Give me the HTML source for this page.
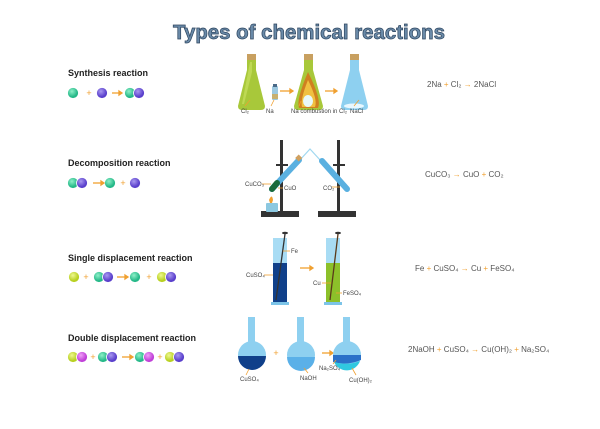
<!DOCTYPE html>
<html><head><meta charset="utf-8"><style>
html,body{margin:0;padding:0;background:#fff;width:600px;height:429px;overflow:hidden}
svg{display:block}
.lbl{font-family:"Liberation Sans",sans-serif;font-weight:bold;font-size:9px;fill:#222}
.sm{font-family:"Liberation Sans",sans-serif;font-size:6px;fill:#444}
.eq{font-family:"Liberation Sans",sans-serif;font-size:8px;fill:#555}
.op{fill:#f0a030}
</style></head><body>
<svg width="600" height="429" viewBox="0 0 600 429" xmlns="http://www.w3.org/2000/svg">
<defs>
<radialGradient id="t" cx="40%" cy="35%"><stop offset="0" stop-color="#8ef0c8"/><stop offset="1" stop-color="#25b888"/></radialGradient>
<radialGradient id="p" cx="40%" cy="35%"><stop offset="0" stop-color="#a898f0"/><stop offset="1" stop-color="#5a40cc"/></radialGradient>
<radialGradient id="y" cx="40%" cy="35%"><stop offset="0" stop-color="#eef890"/><stop offset="1" stop-color="#b8d020"/></radialGradient>
<radialGradient id="m" cx="40%" cy="35%"><stop offset="0" stop-color="#f0a0f8"/><stop offset="1" stop-color="#c040d8"/></radialGradient>
</defs>
<text x="309" y="39" text-anchor="middle" font-family="Liberation Sans,sans-serif" font-weight="bold" font-size="20" textLength="272" lengthAdjust="spacingAndGlyphs" fill="#6a8aa8" stroke="#2e4660" stroke-width="0.7">Types of chemical reactions</text>

<text class="lbl" x="68" y="76">Synthesis reaction</text>
<text class="lbl" x="68" y="166">Decomposition reaction</text>
<text class="lbl" x="68" y="261">Single displacement reaction</text>
<text class="lbl" x="68" y="341">Double displacement reaction</text>

<g stroke="#fff" stroke-width="0.8">
<circle cx="73" cy="93" r="5.5" fill="url(#t)"/>
<circle cx="102" cy="93" r="5.5" fill="url(#p)"/>
<circle cx="130" cy="93" r="5.5" fill="url(#t)"/><circle cx="139" cy="93" r="5.5" fill="url(#p)"/>
<circle cx="73" cy="183" r="5.5" fill="url(#t)"/><circle cx="82" cy="183" r="5.5" fill="url(#p)"/>
<circle cx="110" cy="183" r="5.5" fill="url(#t)"/>
<circle cx="135" cy="183" r="5.5" fill="url(#p)"/>
<circle cx="74" cy="277" r="5.5" fill="url(#y)"/>
<circle cx="99" cy="277" r="5.5" fill="url(#t)"/><circle cx="108" cy="277" r="5.5" fill="url(#p)"/>
<circle cx="135" cy="277" r="5.5" fill="url(#t)"/>
<circle cx="162" cy="277" r="5.5" fill="url(#y)"/><circle cx="171" cy="277" r="5.5" fill="url(#p)"/>
<circle cx="73" cy="357" r="5.5" fill="url(#y)"/><circle cx="82" cy="357" r="5.5" fill="url(#m)"/>
<circle cx="103" cy="357" r="5.5" fill="url(#t)"/><circle cx="112" cy="357" r="5.5" fill="url(#p)"/>
<circle cx="140" cy="357" r="5.5" fill="url(#t)"/><circle cx="149" cy="357" r="5.5" fill="url(#m)"/>
<circle cx="170" cy="357" r="5.5" fill="url(#y)"/><circle cx="179" cy="357" r="5.5" fill="url(#p)"/>
</g>
<g font-family="Liberation Sans,sans-serif" font-size="9" fill="#f0a030" text-anchor="middle">
<text x="89" y="96">+</text><text x="123" y="186">+</text><text x="86" y="280">+</text><text x="149" y="280">+</text><text x="93" y="360">+</text><text x="160" y="360">+</text>
</g>
<g stroke="#f0a030" stroke-width="1.3" fill="#f0a030">
<line x1="112" y1="93" x2="119" y2="93"/><path d="M119 91 L122 93 L119 95Z"/>
<line x1="93" y1="183" x2="101" y2="183"/><path d="M101 181 L104 183 L101 185Z"/>
<line x1="117" y1="277" x2="125" y2="277"/><path d="M125 275 L128 277 L125 279Z"/>
<line x1="122" y1="357" x2="130" y2="357"/><path d="M130 355 L133 357 L130 359Z"/>
<line x1="280" y1="91" x2="290" y2="91"/><path d="M290 89 L293 91 L290 93Z"/>
<line x1="325" y1="91" x2="334" y2="91"/><path d="M334 89 L337 91 L334 93Z"/>
<line x1="300" y1="268" x2="310" y2="268"/><path d="M310 266 L313 268 L310 270Z"/>
<line x1="322" y1="353" x2="330" y2="353"/><path d="M330 351 L333 353 L330 355Z"/>
</g>

<rect x="247" y="54" width="9" height="6" fill="#c8a060"/>
<path d="M247 60 L256 60 L256 70 L265 106 Q265 110 261 110 L242 110 Q238 110 238 106 L247 70Z" fill="#a8c83a"/>
<path d="M250 62 L252 62 L252 72 L244 104 L242 104Z" fill="#c8e060" opacity="0.7"/>
<rect x="304" y="54" width="9" height="6" fill="#c8a060"/>
<path d="M304 60 L313 60 L313 70 L323 106 Q323 110 319 110 L298 110 Q294 110 294 106 L304 70Z" fill="#a8c83a"/>
<path d="M308 72 Q296 100 299 108 L318 108 Q322 100 308 72Z" fill="#d08020"/>
<path d="M308 80 Q300 100 302 107 L315 107 Q318 100 308 80Z" fill="#f0c040"/>
<ellipse cx="308" cy="101" rx="5" ry="6" fill="#e8f8f8"/>
<rect x="350" y="54" width="9" height="6" fill="#c8a060"/>
<path d="M350 60 L359 60 L359 70 L368 106 Q368 110 364 110 L345 110 Q341 110 341 106 L350 70Z" fill="#8ed0f0"/>
<ellipse cx="354" cy="106" rx="10" ry="2.5" fill="#e8f8ff"/>
<rect x="272" y="86" width="6" height="14" rx="1" fill="#9cc8e0"/>
<rect x="273" y="84" width="4" height="3" fill="#4a6a88"/>
<rect x="272" y="94" width="6" height="5" fill="#c8b070"/>
<g stroke="#f0a030" stroke-width="0.8"><line x1="245" y1="106" x2="250" y2="100"/><line x1="271" y1="106" x2="274" y2="100"/><line x1="299" y1="106" x2="301" y2="101"/><line x1="354" y1="106" x2="359" y2="100"/></g>
<text class="sm" x="241" y="113">Cl₂</text>
<text class="sm" x="266" y="113">Na</text>
<text class="sm" x="291" y="113">Na combustion in Cl₂</text>
<text class="sm" x="350" y="113">NaCl</text>
<text class="eq" x="427" y="87">2Na <tspan class="op">+</tspan> Cl₂ <tspan class="op">→</tspan> 2NaCl</text>

<rect x="280" y="140" width="3" height="72" fill="#333"/>
<rect x="337" y="140" width="3" height="72" fill="#333"/>
<rect x="261" y="211" width="38" height="6" fill="#333"/>
<rect x="318" y="211" width="38" height="6" fill="#333"/>
<rect x="276" y="164" width="12" height="2" fill="#333"/><rect x="333" y="164" width="12" height="2" fill="#333"/>
<polyline points="299,161 310,149 321,161" fill="none" stroke="#a0d8f0" stroke-width="1.2"/>
<line x1="272" y1="189" x2="299" y2="160" stroke="#5ab0e0" stroke-width="6" stroke-linecap="round"/>
<line x1="272" y1="189" x2="277" y2="183" stroke="#1a6a3a" stroke-width="6" stroke-linecap="round"/>
<rect x="296" y="156" width="5" height="5" fill="#d0a060" transform="rotate(-45 298 158)"/>
<line x1="322" y1="161" x2="347" y2="189" stroke="#5ab0e0" stroke-width="6" stroke-linecap="round"/>
<rect x="266" y="203" width="12" height="9" rx="1" fill="#8cc8e0"/>
<path d="M270 203 L269 200 Q272 193 273 200 L272 203Z" fill="#f0a030"/>
<g stroke="#f0a030" stroke-width="0.8"><line x1="262" y1="184" x2="271" y2="184"/><line x1="278" y1="188" x2="283" y2="188"/><line x1="332" y1="187" x2="340" y2="187"/></g>
<text class="sm" x="245" y="186">CuCO₃</text>
<text class="sm" x="284" y="190">CuO</text>
<text class="sm" x="323" y="190">CO₂</text>
<text class="eq" x="425" y="177">CuCO₃ <tspan class="op">→</tspan> CuO <tspan class="op">+</tspan> CO₂</text>

<rect x="273" y="238" width="14" height="66" fill="#a8dcf4"/>
<rect x="273" y="263" width="14" height="41" fill="#10408a"/>
<rect x="271" y="302" width="18" height="3" fill="#7cc4e8"/>
<line x1="276" y1="300" x2="285" y2="234" stroke="#333" stroke-width="1.3"/>
<ellipse cx="285" cy="233" rx="3" ry="1.3" fill="#333"/>
<rect x="326" y="238" width="14" height="66" fill="#a8dcf4"/>
<rect x="326" y="263" width="14" height="41" fill="#8cc02a"/>
<rect x="324" y="302" width="18" height="3" fill="#7cc4e8"/>
<line x1="330" y1="300" x2="338" y2="234" stroke="#5a3a1a" stroke-width="1.3"/>
<ellipse cx="338" cy="233" rx="3" ry="1.3" fill="#333"/>
<g stroke="#f0a030" stroke-width="0.8"><line x1="283" y1="251" x2="290" y2="251"/><line x1="264" y1="275" x2="273" y2="275"/><line x1="322" y1="283" x2="331" y2="283"/><line x1="336" y1="293" x2="342" y2="293"/></g>
<text class="sm" x="291" y="253">Fe</text>
<text class="sm" x="246" y="277">CuSO₄</text>
<text class="sm" x="313" y="285">Cu</text>
<text class="sm" x="343" y="295">FeSO₄</text>
<text class="eq" x="415" y="271">Fe <tspan class="op">+</tspan> CuSO₄ <tspan class="op">→</tspan> Cu <tspan class="op">+</tspan> FeSO₄</text>

<rect x="248" y="317" width="7" height="28" fill="#8ed0f0"/>
<circle cx="252" cy="355" r="14" fill="#8ed0f0"/>
<path d="M238 356 A14 14 0 0 0 266 356Z" fill="#10408a"/>
<rect x="297" y="317" width="7" height="28" fill="#8ed0f0"/>
<circle cx="301" cy="355" r="14" fill="#8ed0f0"/>
<path d="M287 357 A14 14 0 0 0 315 357Z" fill="#5ab0e8"/>
<rect x="343" y="317" width="7" height="28" fill="#8ed0f0"/>
<circle cx="347" cy="355" r="14" fill="#8ed0f0"/>
<path d="M333 355 L361 355 L361 360 Q347 366 333 362Z" fill="#2a70c8"/>
<path d="M334 362 Q347 366 360 361 A14 14 0 0 1 334 362Z" fill="#30c8e0"/>
<text x="276" y="356" font-family="Liberation Sans,sans-serif" font-size="9" fill="#f0a030" text-anchor="middle">+</text>
<g stroke="#f0a030" stroke-width="0.8"><line x1="249" y1="369" x2="246" y2="375"/><line x1="304" y1="368" x2="308" y2="373"/><line x1="336" y1="360" x2="333" y2="364"/><line x1="352" y1="368" x2="356" y2="375"/></g>
<text class="sm" x="240" y="381">CuSO₄</text>
<text class="sm" x="300" y="380">NaOH</text>
<text class="sm" x="319" y="370">Na₂SO₄</text>
<text class="sm" x="349" y="382">Cu(OH)₂</text>
<text class="eq" x="408" y="352">2NaOH <tspan class="op">+</tspan> CuSO₄ <tspan class="op">→</tspan> Cu(OH)₂ <tspan class="op">+</tspan> Na₂SO₄</text>
</svg>
</body></html>
